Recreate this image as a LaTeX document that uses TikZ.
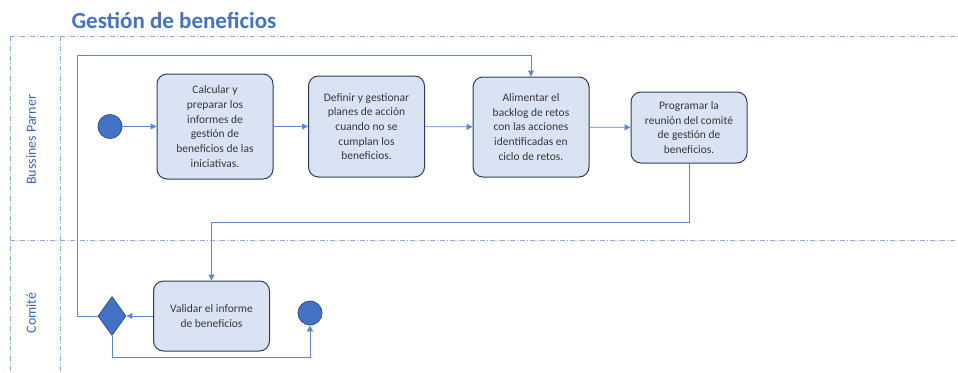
\documentclass[tikz,border=0pt]{standalone}
\usepackage{fontspec}
\setmainfont{Carlito}
\usetikzlibrary{arrows.meta,shapes.geometric}
\definecolor{titleblue}{HTML}{4472C4}
\definecolor{lanecol}{HTML}{8FAADC}
\definecolor{linecol}{HTML}{5B87D2}
\definecolor{boxfill}{HTML}{DAE3F3}
\definecolor{boxborder}{HTML}{2F3B55}
\definecolor{dotfill}{HTML}{4472C4}
\definecolor{dotborder}{HTML}{2F4F86}
\definecolor{textgray}{HTML}{383838}
\definecolor{lanetext}{HTML}{3A64B4}
\tikzset{
  lanedash/.style={draw=lanecol, line width=0.8pt, dash pattern=on 5pt off 2pt on 1pt off 2pt},
  task/.style={draw=boxborder, fill=boxfill, rounded corners=10pt, line width=1pt, align=center,
    font=\fontsize{11.5}{14.7}\selectfont, text=textgray, minimum width=116pt, inner sep=0pt},
  dot/.style={circle, draw=dotborder, fill=dotfill, line width=0.8pt, minimum size=24pt, inner sep=0pt},
  gate/.style={diamond, draw=dotborder, fill=dotfill, line width=0.8pt, minimum width=28pt, minimum height=39pt, shape aspect=0.72, inner sep=0pt},
  flow/.style={draw=linecol, line width=0.8pt, -{Triangle[width=6pt,length=6pt]}},
  lanelabel/.style={rotate=90, text=lanetext, font=\fontsize{14}{16}\selectfont}
}
\begin{document}
\begin{tikzpicture}[x=1pt,y=-1pt]
\useasboundingbox (0,0) rectangle (958,372);
% lanes
\draw[lanedash] (10,36) -- (958,36);
\draw[lanedash] (10,240) -- (956,240);
\draw[lanedash] (10,36) -- (10,372);
\draw[lanedash] (60,36) -- (60,372);
\node[anchor=west, text=titleblue, font=\fontsize{23}{27}\bfseries\selectfont] (title) at (68,20) {Gestión de beneficios};
\node[lanelabel] (lane1) at (31,140) {Bussines Parner};
\node[lanelabel] (lane2) at (31,313) {Comité};
% nodes
\node[dot] (start) at (110,126.5) {};
\node[task, minimum height=105pt] (b1) at (215,126.5) {Calcular y\\preparar los\\informes de\\gestión de\\beneficios de las\\iniciativas.};
\node[task, minimum height=101pt] (b2) at (366.5,126.5) {Definir y gestionar\\planes de acción\\cuando no se\\cumplan los\\beneficios.};
\node[task, minimum height=100pt] (b3) at (531,127) {Alimentar el\\backlog de retos\\con las acciones\\identificadas en\\ciclo de retos.};
\node[task, minimum height=71pt] (b4) at (689,127.5) {Programar la\\reunión del comité\\de gestión de\\beneficios.};
\node[task, minimum height=70pt] (val) at (211.5,316) {Validar el informe\\de beneficios};
\node[gate] (dia) at (112,316) {};
\node[dot] (end) at (310,313) {};
% helper coordinates
\coordinate (loop) at (77,55);
\coordinate (mid) at (689,222);
\coordinate (bot) at (112,357);
% connectors
\draw[flow] (start) -- (b1);
\draw[flow] (b1) -- (b2);
\draw[flow] (b2) -- (b3);
\draw[flow] (b3) -- (b4);
\draw[flow] (b4.south) -- (mid) -| (val.north);
\draw[flow] (val) -- (dia);
\draw[flow] (dia.west) -| (loop) -| (b3.north);
\draw[flow] (dia.south) -- (bot) -| (end.south);
\end{tikzpicture}
\end{document}
